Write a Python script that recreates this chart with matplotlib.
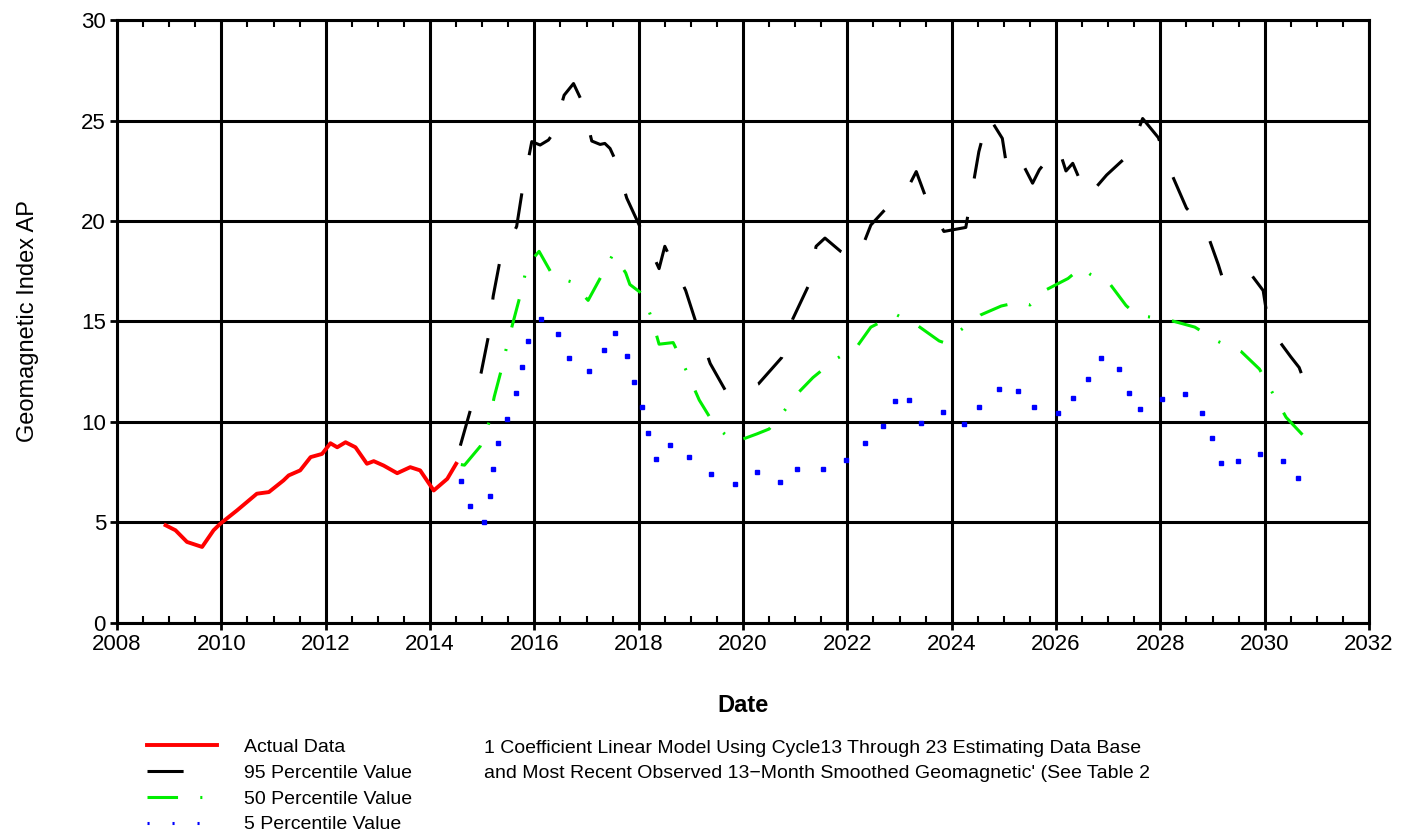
import numpy as np
import matplotlib.pyplot as plt
from matplotlib.lines import Line2D

plt.rcParams['font.family'] = ['Liberation Sans', 'DejaVu Sans']
plt.rcParams['lines.scale_dashes'] = False

# Actual 13-month smoothed Ap
act_year = [2008.93, 2009.12, 2009.34, 2009.63, 2009.85, 2009.98, 2010.30, 2010.68,
            2010.91, 2011.19, 2011.29, 2011.51, 2011.71, 2011.93, 2012.09, 2012.22,
            2012.38, 2012.57, 2012.79, 2012.92, 2013.11, 2013.37, 2013.62, 2013.81,
            2014.07, 2014.33, 2014.50]
act_ap = [4.86, 4.61, 4.03, 3.78, 4.61, 4.94, 5.60, 6.43,
          6.51, 7.09, 7.34, 7.59, 8.25, 8.41, 8.94, 8.74,
          8.99, 8.74, 7.92, 8.05, 7.83, 7.45, 7.75, 7.59,
          6.59, 7.17, 7.92]

# 95 percentile prediction
p95_year = [2014.58, 2014.77, 2014.98, 2015.12, 2015.21, 2015.34, 2015.66, 2015.77,
            2015.95, 2016.11, 2016.27, 2016.36, 2016.57, 2016.75, 2016.92, 2017.10,
            2017.26, 2017.35, 2017.45, 2017.56, 2017.77, 2018.08, 2018.39, 2018.50,
            2018.90, 2019.12, 2019.37, 2019.72, 2020.29, 2020.74, 2020.95, 2021.25,
            2021.40, 2021.57, 2021.87, 2022.19, 2022.45, 2022.91, 2023.15, 2023.32,
            2023.52, 2023.85, 2024.27, 2024.39, 2024.52, 2024.70, 2024.97, 2025.08,
            2025.37, 2025.55, 2025.68, 2026.04, 2026.19, 2026.32, 2026.60, 2026.75,
            2026.97, 2027.40, 2027.66, 2027.96, 2028.20, 2028.50, 2028.70, 2028.86,
            2029.11, 2029.18, 2029.39, 2029.62, 2029.97, 2030.08, 2030.50, 2030.66,
            2030.82]
p95_ap = [8.82, 10.56, 12.46, 14.28, 16.26, 18.03, 19.73, 21.55,
          23.95, 23.78, 24.03, 24.36, 26.26, 26.84, 25.90, 23.98,
          23.81, 23.86, 23.61, 22.99, 21.14, 19.40, 17.63, 18.74,
          16.54, 14.77, 12.91, 11.30, 11.88, 13.20, 15.11, 16.76,
          18.74, 19.15, 18.49, 18.08, 19.80, 21.10, 21.60, 22.46,
          21.06, 19.48, 19.68, 21.50, 23.45, 25.24, 24.11, 22.29,
          22.79, 21.88, 22.55, 23.70, 22.49, 22.87, 21.17, 21.63,
          22.29, 23.32, 25.10, 24.15, 22.43, 20.64, 20.07, 19.65,
          17.83, 17.25, 17.50, 17.75, 16.54, 14.72, 13.24, 12.71,
          11.59]

# 50 percentile prediction
p50_year = [2014.59, 2014.66, 2014.96, 2015.13, 2015.23, 2015.37, 2015.48, 2015.61,
            2015.75, 2015.86, 2016.09, 2016.36, 2016.71, 2017.03, 2017.29, 2017.51,
            2017.75, 2017.83, 2018.08, 2018.25, 2018.39, 2018.66, 2018.77, 2018.97,
            2019.16, 2019.46, 2019.83, 2020.26, 2020.50, 2020.70, 2021.00, 2021.34,
            2021.77, 2022.17, 2022.45, 2022.93, 2023.36, 2023.76, 2023.85, 2024.19,
            2024.55, 2024.95, 2025.31, 2025.50, 2025.82, 2026.23, 2026.49, 2026.66,
            2027.04, 2027.34, 2027.55, 2027.81, 2028.24, 2028.66, 2029.11, 2029.55,
            2029.90, 2030.17, 2030.41, 2030.74]
p50_ap = [7.88, 7.85, 8.78, 9.98, 11.25, 12.63, 13.87, 15.14,
          16.51, 17.78, 18.49, 17.25, 16.97, 16.05, 17.29, 18.36,
          17.42, 16.84, 16.35, 15.14, 13.87, 13.95, 13.37, 12.21,
          11.09, 9.82, 8.99, 9.40, 9.65, 10.23, 11.30, 12.21,
          13.12, 13.70, 14.72, 15.35, 14.77, 14.03, 13.95, 14.61,
          15.32, 15.77, 15.98, 15.82, 16.59, 17.14, 17.70, 17.34,
          16.84, 15.80, 15.30, 15.22, 15.02, 14.72, 14.00, 13.50,
          12.63, 11.35, 10.23, 9.32]

# 5 percentile prediction
p5_year = [2014.60, 2014.77, 2015.04, 2015.14, 2015.21, 2015.30, 2015.48, 2015.65,
           2015.77, 2015.88, 2016.13, 2016.46, 2016.67, 2017.05, 2017.33, 2017.55,
           2017.77, 2017.90, 2018.07, 2018.18, 2018.33, 2018.59, 2018.97, 2019.38,
           2019.85, 2020.26, 2020.70, 2021.03, 2021.53, 2021.97, 2022.33, 2022.69,
           2022.91, 2023.18, 2023.41, 2023.84, 2024.24, 2024.52, 2024.90, 2025.28,
           2025.58, 2026.03, 2026.32, 2026.62, 2026.86, 2027.20, 2027.40, 2027.60,
           2028.03, 2028.48, 2028.80, 2028.99, 2029.17, 2029.49, 2029.90, 2030.36,
           2030.63]
p5_ap = [7.06, 5.80, 5.02, 6.31, 7.67, 8.96, 10.15, 11.42,
         12.71, 14.03, 15.14, 14.36, 13.17, 12.54, 13.57, 14.44,
         13.29, 12.00, 10.72, 9.43, 8.17, 8.83, 8.25, 7.42,
         6.93, 7.50, 7.01, 7.67, 7.67, 8.12, 8.97, 9.82,
         11.02, 11.09, 9.93, 10.51, 9.90, 10.72, 11.63, 11.55,
         10.76, 10.43, 11.19, 12.16, 13.20, 12.64, 11.44, 10.64,
         11.14, 11.39, 10.43, 9.19, 7.95, 8.08, 8.41, 8.05,
         7.21]

fig = plt.figure(figsize=(14.19, 8.35), dpi=100)
ax = fig.add_axes([0.0825, 0.254, 0.8823, 0.722])

ax.plot(act_year, act_ap, color='#ff0000', lw=2.8)
ax.plot(p95_year, p95_ap, color='black', lw=2.2, dashes=(26, 28))
ax.plot(p50_year, p50_ap, color='#00ee00', lw=2.2, dashes=(21, 16, 1.5, 16))
ax.plot(p5_year, p5_ap, ls='none', marker='s', ms=2.6, color='#0000ff')

ax.set_xlim(2008, 2032)
ax.set_ylim(0, 30)
ax.set_xticks(np.arange(2008, 2033, 2))
ax.set_yticks(np.arange(0, 31, 5))
ax.set_xticks(np.arange(2008, 2032.1, 0.5), minor=True)
ax.grid(True, which='major', color='black', lw=2.2)
ax.tick_params(axis='both', which='major', labelsize=16, width=2, length=5, direction='out',
               pad=3)
ax.tick_params(axis='x', which='minor', direction='in', length=5, width=1.5, top=True)
for s in ax.spines.values():
    s.set_linewidth(2.2)
ax.set_axisbelow(True)

ax.set_xlabel('Date', fontsize=17, labelpad=28, fontweight='bold')
ax.set_ylabel('Geomagnetic Index AP', fontsize=17, labelpad=30)

# legend block beneath the axes
handles = [Line2D([], [], color='#ff0000', lw=2.8),
           Line2D([], [], color='black', lw=2.2, dashes=(26, 28)),
           Line2D([], [], color='#00ee00', lw=2.2, dashes=(22, 16, 1.5, 40)),
           Line2D([], [], color='#0000ff', lw=2.2, dashes=(1.5, 16.5))]
leg_labels = ['Actual Data', '95 Percentile Value', '50 Percentile Value', '5 Percentile Value']
fig.legend(handles=handles, labels=leg_labels, loc='upper left',
           bbox_to_anchor=(0.098, 0.125), frameon=False, fontsize=14,
           handlelength=3.6, handletextpad=1.4, labelspacing=0.42,
           borderaxespad=0)
fig.text(0.341, 0.104, '1 Coefficient Linear Model Using Cycle13 Through 23 Estimating Data Base',
         fontsize=14, va='center')
fig.text(0.341, 0.074, "and Most Recent Observed 13\u2212Month Smoothed Geomagnetic' (See Table 2",
         fontsize=14, va='center')

fig.savefig('out.png', dpi=100)
